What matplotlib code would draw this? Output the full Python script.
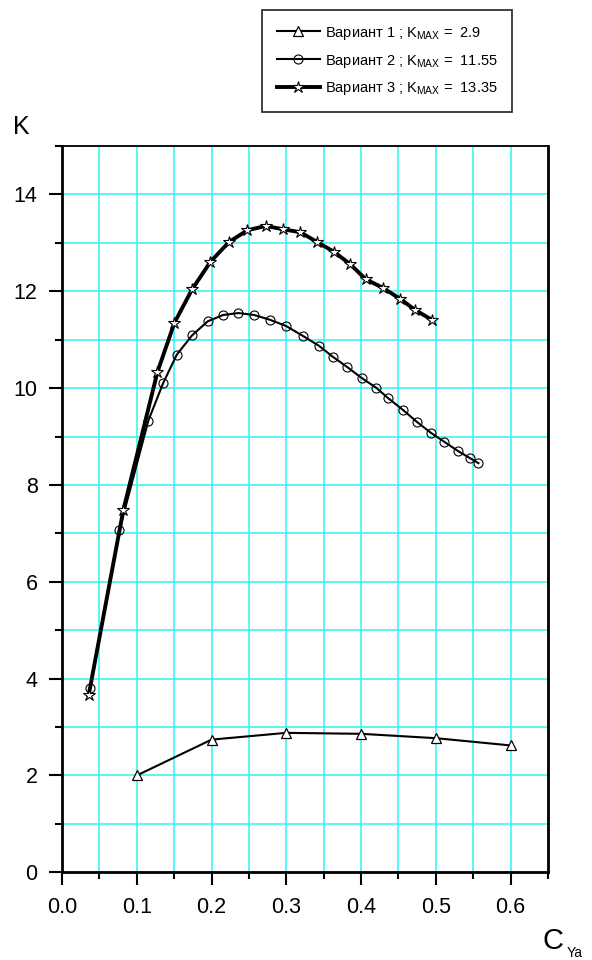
import matplotlib
matplotlib.use("Agg")
import matplotlib.pyplot as plt
from matplotlib.ticker import MultipleLocator, FormatStrFormatter

plt.rcParams['font.family'] = ['Liberation Sans', 'DejaVu Sans']
plt.rcParams['mathtext.fontset'] = 'custom'
plt.rcParams['mathtext.rm'] = 'Liberation Sans'

# Variant 1 (triangles)
x1 = [0.1, 0.2, 0.3, 0.4, 0.5, 0.6]
k1 = [2.00, 2.74, 2.88, 2.86, 2.77, 2.62]

# Variant 2 (circles)
x2 = [0.0375, 0.0767, 0.1155, 0.1352, 0.1535, 0.174, 0.195, 0.2155, 0.236, 0.257,
      0.2784, 0.300, 0.322, 0.344, 0.3619, 0.381, 0.4007, 0.42, 0.4364, 0.456,
      0.4748, 0.494, 0.5114, 0.5297, 0.546, 0.557]
k2 = [3.81, 7.06, 9.33, 10.10, 10.69, 11.09, 11.38, 11.51, 11.55, 11.51,
      11.41, 11.28, 11.08, 10.87, 10.65, 10.44, 10.21, 10.01, 9.79, 9.55,
      9.30, 9.07, 8.89, 8.70, 8.55, 8.45]

# Variant 3 (stars)
x3 = [0.0357, 0.082, 0.1276, 0.1504, 0.174, 0.1986, 0.2236, 0.248, 0.2727, 0.2954,
      0.3186, 0.341, 0.3632, 0.3855, 0.406, 0.4293, 0.4525, 0.4726, 0.4949]
k3 = [3.66, 7.48, 10.33, 11.35, 12.04, 12.61, 13.02, 13.26, 13.35, 13.28,
      13.22, 13.02, 12.82, 12.56, 12.25, 12.07, 11.84, 11.61, 11.41]

labels = ['Вариант 1 ; K$_{\\mathregular{MAX}}$ =  2.9',
          'Вариант 2 ; K$_{\\mathregular{MAX}}$ =  11.55',
          'Вариант 3 ; K$_{\\mathregular{MAX}}$ =  13.35']

W, H = 592, 960
fig = plt.figure(figsize=(W / 100, H / 100), dpi=100)
ax = fig.add_axes([62 / W, 1 - 872.3 / H, (548 - 62) / W, (872.3 - 146) / H])

grid_color = '#2ef4f4'
ax.set_xlim(0, 0.65)
ax.set_ylim(0, 15)
ax.xaxis.set_major_locator(MultipleLocator(0.1))
ax.xaxis.set_minor_locator(MultipleLocator(0.05))
ax.yaxis.set_major_locator(MultipleLocator(2))
ax.yaxis.set_minor_locator(MultipleLocator(1))
ax.xaxis.set_major_formatter(FormatStrFormatter('%.1f'))
ax.yaxis.set_major_formatter(FormatStrFormatter('%d'))
ax.grid(True, which='both', color=grid_color, linewidth=1.1)
ax.set_axisbelow(True)

ax.tick_params(which='major', direction='out', length=9.5, width=1.5,
               labelsize=15.5, pad=8, colors='black')
ax.tick_params(which='minor', direction='out', length=5, width=1.5)
ax.tick_params(top=False, right=False, which='both')

for s in ['left', 'bottom', 'right']:
    ax.spines[s].set_linewidth(2.0)
ax.spines['top'].set_linewidth(1.3)
for s in ax.spines.values():
    s.set_color('black')

l1, = ax.plot(x1, k1, color='black', lw=1.5, marker='^', ms=7,
              mfc='white', mec='black', mew=0.9, label=labels[0])
l2, = ax.plot(x2, k2, color='black', lw=1.5, marker='o', ms=6.5,
              mfc='none', mec='black', mew=0.8, label=labels[1])
l3, = ax.plot(x3, k3, color='black', lw=2.8, marker='*', ms=9,
              mfc='white', mec='black', mew=0.8, label=labels[2])

leg = fig.legend(handles=[l1, l2, l3], loc='upper left',
                 bbox_to_anchor=(262 / W, 1 - 10 / H), fontsize=10.5,
                 frameon=True, fancybox=False, shadow=False,
                 handlelength=3.0, handletextpad=0.3,
                 borderpad=1.0, labelspacing=0.75, borderaxespad=0)
leg.get_frame().set_edgecolor('black')
leg.get_frame().set_linewidth(1.3)

fig.text(13 / W, 1 - 134 / H, 'K', fontsize=18, va='baseline', ha='left')
fig.text(542 / W, 1 - 949 / H, 'C', fontsize=21, va='baseline', ha='left')
fig.text(567 / W, 1 - 957 / H, 'Ya', fontsize=10, va='baseline', ha='left')

fig.savefig('out.png', dpi=100)
